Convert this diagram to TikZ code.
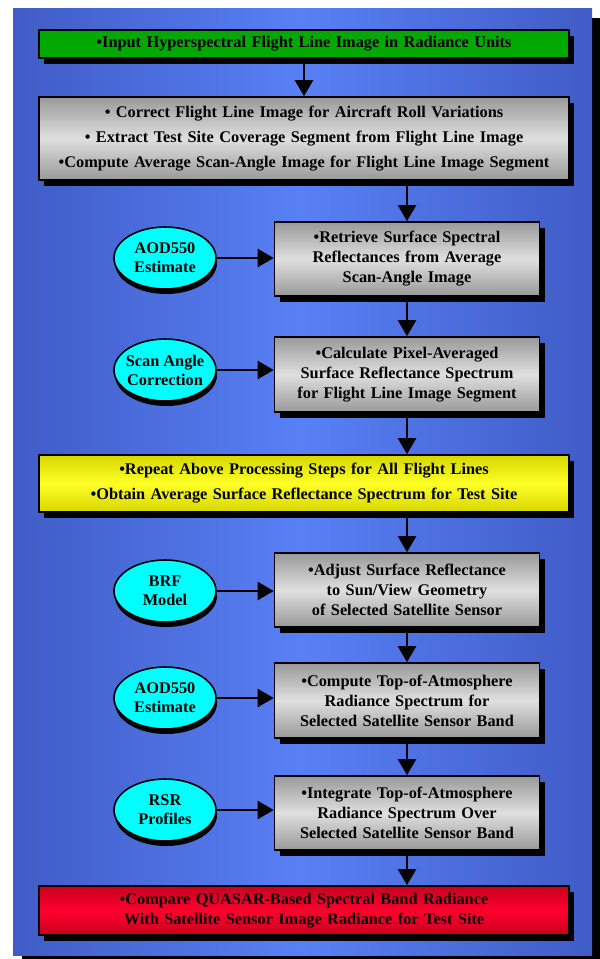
\documentclass[tikz,border=0pt]{standalone}
\usepackage{fontspec}
\setmainfont{Liberation Serif}
\usetikzlibrary{shapes.geometric,shadows,arrows.meta}
\definecolor{bgedge}{RGB}{64,92,198}
\definecolor{bgmid}{RGB}{88,128,245}
\definecolor{grn}{RGB}{0,168,0}
\definecolor{cyn}{RGB}{0,255,255}
\definecolor{ylwedge}{RGB}{215,215,0}
\definecolor{ylwmid}{RGB}{255,255,40}
\definecolor{rededge}{RGB}{200,0,30}
\definecolor{redmid}{RGB}{255,0,45}
\newcommand{\zw}[1]{\makebox[0pt]{#1}}
\begin{document}
\begin{tikzpicture}[x=1pt,y=-1pt,
  base/.style={draw=black, line width=1.6pt, align=center,
    font=\fontsize{16.3}{20}\selectfont\bfseries, inner sep=0pt,
    drop shadow={fill=black, opacity=1, shadow xshift=5pt, shadow yshift=-6pt}},
  wide/.style={base, minimum width=530pt, text width=524pt},
  narrow/.style={base, minimum width=265pt, minimum height=74pt, text width=260pt},
  graybox/.style={top color=gray!80, bottom color=gray!80, middle color=gray!25},
  oval/.style={ellipse, draw=black, line width=1.6pt, fill=cyn, minimum width=102pt,
    minimum height=62pt, inner sep=0pt, align=center,
    font=\fontsize{16.3}{19}\selectfont\bfseries,
    drop shadow={fill=black, opacity=1, shadow xshift=1pt, shadow yshift=-5pt}},
  flow/.style={line width=2.5pt, -{Triangle[length=16pt,width=18pt]}}
]
\useasboundingbox[fill=white] (0,0) rectangle (600,959);
\fill[black] (22,18) rectangle (600,959);
\shade[left color=bgedge, right color=bgedge, middle color=bgmid] (13,8) rectangle (592,955);

\node[wide, minimum height=28pt, fill=grn] (g0) at (304,44)
  {\textbullet Input Hyperspectral Flight Line Image in Radiance Units};
\node[wide, minimum height=83pt, graybox, font=\fontsize{16.3}{25}\selectfont\bfseries] (g1) at (304,138.5)
  {\textbullet{} Correct Flight Line Image for Aircraft Roll Variations\\
   \textbullet{} Extract Test Site Coverage Segment from Flight Line Image\\
   \textbullet Compute Average Scan-Angle Image for Flight Line Image Segment};
\node[narrow, graybox] (n2) at (407,259)
  {\textbullet Retrieve Surface Spectral\\Reflectances from Average\\Scan-Angle Image};
\node[narrow, graybox, minimum height=75pt] (n3) at (407,374.5)
  {\textbullet Calculate Pixel-Averaged\\Surface Reflectance Spectrum\\for Flight Line Image Segment};
\node[wide, minimum height=57pt, top color=ylwedge, bottom color=ylwedge, middle color=ylwmid,
  font=\fontsize{16.3}{25}\selectfont\bfseries] (y4) at (304,483.5)
  {\textbullet Repeat Above Processing Steps for All Flight Lines\\
   \textbullet Obtain Average Surface Reflectance Spectrum for Test Site};
\node[narrow, graybox] (n5) at (407,590)
  {\textbullet Adjust Surface Reflectance\\to Sun/View Geometry\\of Selected Satellite Sensor};
\node[narrow, graybox, minimum height=75pt] (n6) at (407,700.5)
  {\textbullet Compute Top-of-Atmosphere\\Radiance Spectrum for\\Selected Satellite Sensor Band};
\node[narrow, graybox] (n7) at (407,813)
  {\textbullet Integrate Top-of-Atmosphere\\Radiance Spectrum Over\\Selected Satellite Sensor Band};
\node[wide, minimum height=49pt, top color=rededge, bottom color=rededge, middle color=redmid] (r8) at (304,910.5)
  {\textbullet Compare QUASAR-Based Spectral Band Radiance\\With Satellite Sensor Image Radiance for Test Site};

\node[oval] (e2) at (165,258) {\zw{AOD550}\\\zw{Estimate}};
\node[oval] (e3) at (165,370) {\zw{Scan Angle}\\\zw{Correction}};
\node[oval] (e5) at (165,591) {\zw{BRF}\\\zw{Model}};
\node[oval] (e6) at (165,698) {\zw{AOD550}\\\zw{Estimate}};
\node[oval] (e7) at (165,810) {\zw{RSR}\\\zw{Profiles}};

\draw[flow] (g0.south) -- (g1.north);
\draw[flow] (g1.south -| n2) -- (n2.north);
\draw[flow] (n2.south) -- (n3.north);
\draw[flow] (n3.south) -- (n3.south |- y4.north);
\draw[flow] (y4.south -| n5) -- (n5.north);
\draw[flow] (n5.south) -- (n6.north);
\draw[flow] (n6.south) -- (n7.north);
\draw[flow] (n7.south) -- (n7.south |- r8.north);

\draw[flow] (e2.east) -- (e2.east -| n2.west);
\draw[flow] (e3.east) -- (e3.east -| n3.west);
\draw[flow] (e5.east) -- (e5.east -| n5.west);
\draw[flow] (e6.east) -- (e6.east -| n6.west);
\draw[flow] (e7.east) -- (e7.east -| n7.west);
\end{tikzpicture}
\end{document}
